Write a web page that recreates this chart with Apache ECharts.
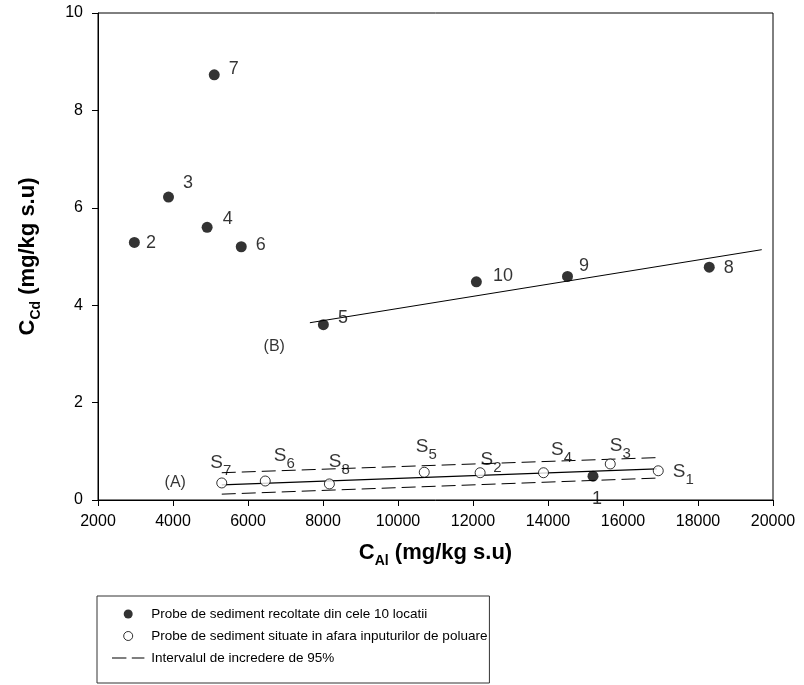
<!DOCTYPE html>
<html lang="ro">
<head>
<meta charset="UTF-8">
<title>CCd vs CAl</title>
<style>
  html, body { margin: 0; padding: 0; background: #fff; }
  #main { width: 804px; height: 685px; }
</style>
</head>
<body>
<div id="main"></div>
<script src="https://cdn.jsdelivr.net/npm/echarts@6/dist/echarts.min.js"></script>
<script>
// filled points: sediment samples from the 10 locations
var ptX = [15200, 2970, 3880, 4910, 8010, 5820, 5100, 18300, 14520, 12090];
var ptY = [0.49, 5.29, 6.22, 5.60, 3.60, 5.20, 8.73, 4.78, 4.59, 4.48];
var ptNames = ['1', '2', '3', '4', '5', '6', '7', '8', '9', '10'];

// open points: S1..S8
var sX = [16940, 12190, 15660, 13880, 10700, 6460, 5300, 8170];
var sY = [0.60, 0.56, 0.74, 0.56, 0.57, 0.39, 0.35, 0.33];
var sNames = ['1', '2', '3', '4', '5', '6', '7', '8'];

// regression (A) with 95% band, regression (B)
var lineAX = [5300, 16900];
var lineAY = [0.31, 0.64];
var upperAY = [0.56, 0.87];
var lowerAY = [0.12, 0.45];
var lineBX = [7650, 19700];
var lineBY = [3.64, 5.14];

var noteX = [4060, 6700];
var noteY = [0.36, 3.14];
var noteText = ['(A)', '(B)'];

var xTicks = [2000, 20000, 2000]; // min, max, step
var yTicks = [0, 10, 2];

var legendNames = [
    'Probe de sediment recoltate din cele 10 locatii',
    'Probe de sediment situate in afara inputurilor de poluare',
    'Intervalul de incredere de 95%'
];

// label offsets (px) for the numbered and S points
var ptOff = [[4, 4], [-3, 1], [0, -14], [1, -8], [0, -7], [0, -2], [0, -6], [0, 1], [-3, -10], [2, -6]];
var sOff = [[25, 4], [11, -10], [10, -15], [18, -20], [2, -22], [19, -22], [-1, -17], [10, -19]];

function zip(xs, ys) {
    return xs.map(function (x, i) { return [x, ys[i]]; });
}

var font = 'Arial, "Liberation Sans", sans-serif';
var dashIcon = 'path://M0,0h0.01v0.01h-0.01Z M0,4.5h16v1h-16Z M22,4.5h14v1h-14Z M35.99,9.99h0.01v0.01h-0.01Z';

var ptData = ptX.map(function (x, i) {
    var lbl = i === 0
        ? { position: 'bottom', distance: 4, offset: ptOff[i] }
        : { position: 'right', distance: 9, offset: ptOff[i] };
    return { value: [x, ptY[i]], name: ptNames[i], label: lbl };
});

var sData = sX.map(function (x, i) {
    return { value: [x, sY[i]], name: sNames[i], label: { offset: sOff[i] } };
});

var titleRich = {
    c: { fontSize: 22, fontWeight: 'bold', fontFamily: font, color: '#000', lineHeight: 22, verticalAlign: 'top' },
    sub: { fontSize: 14, fontWeight: 'bold', fontFamily: font, color: '#000', lineHeight: 26, verticalAlign: 'bottom' }
};

var myChart = echarts.init(document.getElementById('main'));

var option = {
    backgroundColor: '#fff',
    animation: false,
    textStyle: { fontFamily: font, color: '#000' },
    grid: {
        left: 98, right: 31, top: 13, bottom: 185,
        show: true, borderColor: '#000', borderWidth: 1, backgroundColor: 'transparent'
    },
    legend: {
        orient: 'vertical',
        left: 97, top: 596,
        data: [
            { name: legendNames[0], icon: 'circle' },
            { name: legendNames[1], icon: 'circle', itemStyle: { borderWidth: 1 } },
            { name: legendNames[2], icon: dashIcon, itemStyle: { borderWidth: 0 }, lineStyle: { width: 0 } }
        ],
        itemWidth: 36, itemHeight: 9, itemGap: 6,
        padding: [10, 2, 17, 15],
        borderColor: '#333', borderWidth: 1,
        textStyle: { fontFamily: font, fontSize: 13.5, lineHeight: 16, color: '#000' },
        selectedMode: false
    },
    xAxis: {
        type: 'value', min: xTicks[0], max: xTicks[1], interval: xTicks[2],
        name: '{c|C}{sub|Al}{c| (mg/kg s.u)}',
        nameLocation: 'middle', nameGap: 42,
        nameTextStyle: { rich: titleRich },
        axisLine: { lineStyle: { color: '#000', width: 1 } },
        axisTick: { inside: false, length: 6, lineStyle: { color: '#000' } },
        axisLabel: {
            color: '#000', fontSize: 16, margin: 14, fontFamily: font,
            formatter: function (v) { return String(v); }
        },
        splitLine: { show: false }
    },
    yAxis: {
        type: 'value', min: yTicks[0], max: yTicks[1], interval: yTicks[2],
        name: '{c|C}{sub|Cd}{c| (mg/kg s.u)}',
        nameLocation: 'middle', nameGap: 55,
        nameTextStyle: { rich: titleRich },
        axisLine: { show: true, lineStyle: { color: '#000', width: 1 } },
        axisTick: { show: true, inside: false, length: 6, lineStyle: { color: '#000' } },
        axisLabel: {
            color: '#000', fontSize: 16, margin: 15, fontFamily: font,
            formatter: function (v) { return String(v); }
        },
        splitLine: { show: false }
    },
    series: [
        {
            name: legendNames[0],
            type: 'scatter',
            symbol: 'circle', symbolSize: 11,
            itemStyle: { color: '#000' },
            data: ptData,
            z: 5,
            label: {
                show: true, color: '#000', fontSize: 18, fontFamily: font,
                formatter: function (p) { return p.name; }
            }
        },
        {
            name: legendNames[1],
            type: 'scatter',
            symbol: 'circle', symbolSize: 10,
            itemStyle: { color: '#fff', borderColor: '#000', borderWidth: 1 },
            data: sData,
            z: 6,
            label: {
                show: true, position: 'inside', color: '#000',
                formatter: function (p) { return '{s|S}{b|' + p.name + '}'; },
                rich: {
                    s: { fontSize: 19, fontFamily: font, color: '#000', lineHeight: 19, verticalAlign: 'top' },
                    b: { fontSize: 15, fontFamily: font, color: '#000', lineHeight: 25, verticalAlign: 'bottom' }
                }
            }
        },
        {
            name: legendNames[2],
            type: 'line',
            data: zip(lineAX, upperAY),
            symbol: 'none',
            lineStyle: { color: '#000', width: 1, type: [14, 6] },
            itemStyle: { color: '#000' },
            z: 3
        },
        {
            name: legendNames[2],
            type: 'line',
            data: zip(lineAX, lowerAY),
            symbol: 'none',
            lineStyle: { color: '#000', width: 1, type: [14, 6] },
            itemStyle: { color: '#000' },
            z: 3
        },
        {
            name: 'A',
            type: 'line',
            data: zip(lineAX, lineAY),
            symbol: 'none',
            lineStyle: { color: '#000', width: 1.2 },
            z: 3
        },
        {
            name: 'B',
            type: 'line',
            data: zip(lineBX, lineBY),
            symbol: 'none',
            lineStyle: { color: '#000', width: 1 },
            z: 3
        },
        {
            name: 'note',
            type: 'scatter',
            symbolSize: 0,
            data: noteX.map(function (x, i) { return { value: [x, noteY[i]], name: noteText[i] }; }),
            label: {
                show: true, position: 'inside', color: '#000', fontSize: 16, fontFamily: font,
                formatter: function (p) { return p.name; }
            }
        }
    ]
};

myChart.setOption(option);
</script>
</body>
</html>
